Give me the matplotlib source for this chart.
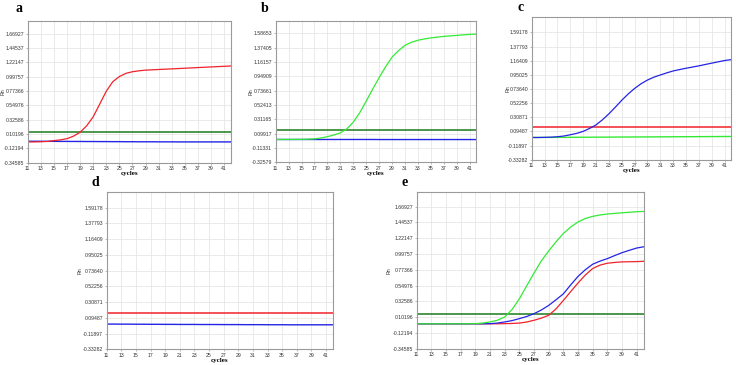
import matplotlib.pyplot as plt

cycles = list(range(11, 43))
xticks = list(range(11, 42, 2))

# panel a
a_ticks = [-0.34585, -0.12194, 0.10196, 0.32586, 0.54976, 0.77366, 0.99757, 1.22147, 1.44537, 1.66927]
a_red = [-0.02, -0.02, -0.018, -0.012, 0.0, 0.012, 0.03, 0.07, 0.13, 0.23, 0.37, 0.57, 0.77, 0.92, 1.0, 1.05,
         1.075, 1.09, 1.10, 1.105, 1.11, 1.115, 1.12, 1.125, 1.13, 1.135, 1.14, 1.145, 1.15, 1.155, 1.16, 1.165]
a_blue = [-0.01, -0.01, -0.01, -0.011, -0.011, -0.012, -0.012, -0.013, -0.013, -0.014, -0.014, -0.015, -0.015, -0.016,
          -0.016, -0.017, -0.017, -0.018, -0.018, -0.018, -0.019, -0.019, -0.019, -0.02, -0.02, -0.02, -0.02, -0.02,
          -0.02, -0.02, -0.02, -0.02]
a_thr = 0.135

# panel b
b_ticks = [-0.32579, -0.11331, 0.09917, 0.31165, 0.52413, 0.73661, 0.94909, 1.16157, 1.37405, 1.58653]
b_green = [0.013, 0.013, 0.013, 0.014, 0.015, 0.017, 0.022, 0.035, 0.055, 0.08, 0.11, 0.17, 0.27, 0.41, 0.58, 0.76,
           0.93, 1.09, 1.235, 1.33, 1.41, 1.455, 1.485, 1.505, 1.52, 1.532, 1.542, 1.55, 1.557, 1.565, 1.572, 1.576]
b_blue = [0.013] * 16 + [0.012] * 16
b_thr = 0.159

# panel c
c_ticks = [-0.33282, -0.11897, 0.09487, 0.30871, 0.52256, 0.73640, 0.95025, 1.16409, 1.37793, 1.59178]
c_blue = [0.003, 0.003, 0.005, 0.008, 0.014, 0.025, 0.044, 0.065, 0.095, 0.14, 0.193, 0.27, 0.36, 0.46, 0.565, 0.66,
          0.744, 0.815, 0.871, 0.915, 0.948, 0.98, 1.009, 1.03, 1.05, 1.068, 1.086, 1.107, 1.127, 1.147, 1.167, 1.18]
c_green = [0.003, 0.003, 0.004, 0.004, 0.005, 0.005, 0.006, 0.006, 0.007, 0.007, 0.008, 0.008, 0.009, 0.009, 0.01,
           0.01, 0.011, 0.011, 0.012, 0.012, 0.013, 0.013, 0.014, 0.014, 0.015, 0.015, 0.016, 0.016, 0.017, 0.017,
           0.018, 0.018]
c_thr = 0.16

# panel d
d_ticks = c_ticks
d_blue = [0.01, 0.01, 0.009, 0.009, 0.008, 0.008, 0.007, 0.007, 0.006, 0.006, 0.005, 0.005, 0.005, 0.004, 0.004,
          0.004, 0.003, 0.003, 0.003, 0.002, 0.002, 0.002, 0.001, 0.001, 0.001, 0.0, 0.0, 0.0, 0.0, 0.0, 0.0, 0.0]
d_thr = 0.162

# panel e
e_ticks = a_ticks
e_green = [0.01, 0.01, 0.01, 0.01, 0.01, 0.01, 0.01, 0.011, 0.012, 0.02, 0.036, 0.06, 0.106, 0.21, 0.363, 0.545,
           0.727, 0.9, 1.04, 1.17, 1.287, 1.38, 1.45, 1.5, 1.53, 1.55, 1.563, 1.572, 1.58, 1.588, 1.596, 1.6]
e_blue = [0.01] * 10 + [0.012, 0.02, 0.036, 0.055, 0.083, 0.113, 0.153, 0.205, 0.27, 0.35, 0.433, 0.56, 0.68, 0.775,
                        0.853, 0.897, 0.932, 0.975, 1.016, 1.05, 1.082, 1.1]
e_red = [0.01] * 12 + [0.012, 0.015, 0.02, 0.035, 0.06, 0.09, 0.13, 0.22, 0.34, 0.465, 0.587, 0.7, 0.792, 0.84,
                       0.867, 0.878, 0.886, 0.888, 0.89, 0.895]
e_thr = 0.154

RED = '#f0222a'
GREEN = '#33ea33'
DKGREEN = '#1d7a1d'
BLUE = '#2424e6'
TICKFONT = ['Liberation Sans Narrow', 'Liberation Sans', 'DejaVu Sans']


def setup(ax, ticks, top, letter, dx, dy):
    ax.set_xlim(11, 42)
    ax.set_ylim(ticks[0], top)
    ax.set_xticks(xticks)
    ax.set_yticks(ticks)
    ax.set_yticklabels(['%.5f' % t for t in ticks])
    ax.grid(True, color='#e6e6e6', linewidth=0.6)
    ax.set_axisbelow(True)
    for s in ax.spines.values():
        s.set_color('#9a9a9a')
        s.set_linewidth(0.8)
    ax.tick_params(labelsize=3.7, colors='#333333', length=1.5, width=0.5, pad=1.0)
    ax.tick_params(color='#9a9a9a')
    for lab in ax.get_xticklabels() + ax.get_yticklabels():
        lab.set_family(TICKFONT)
    ax.set_xlabel('cycles', fontsize=5.0, fontweight='bold', family='Liberation Serif', labelpad=0)
    ax.set_ylabel('Rn', fontsize=3.8, color='#333333', family=TICKFONT)
    ax.yaxis.set_label_coords(-0.108, 0.5)
    # panel letter, offsets given in pixels from the axes top-left corner
    ax.annotate(letter, xy=(0, 1), xycoords='axes fraction', xytext=(dx * 0.72, dy * 0.72),
                textcoords='offset points', fontsize=10, fontweight='bold',
                family='Liberation Serif', ha='center', va='bottom')


fig = plt.figure(figsize=(7.36, 3.65), dpi=100)

ax_a = fig.add_axes([0.0376, 0.554, 0.2758, 0.389])
ax_b = fig.add_axes([0.3746, 0.5553, 0.2722, 0.387])
ax_c = fig.add_axes([0.7224, 0.5625, 0.2708, 0.390])
ax_d = fig.add_axes([0.145, 0.0430, 0.3079, 0.430])
ax_e = fig.add_axes([0.5661, 0.0440, 0.3089, 0.430])

setup(ax_a, a_ticks, 1.87, 'a', -9, 6)
ax_a.axhline(a_thr, color=DKGREEN, lw=1.1)
ax_a.plot(cycles, a_blue, color=BLUE, lw=1.0)
ax_a.plot(cycles, a_red, color=RED, lw=0.9)

setup(ax_b, b_ticks, 1.77, 'b', -11, 6)
ax_b.axhline(b_thr, color=DKGREEN, lw=1.1)
ax_b.plot(cycles, b_blue, color=BLUE, lw=1.0)
ax_b.plot(cycles, b_green, color=GREEN, lw=0.9)

setup(ax_c, c_ticks, 1.82, 'c', -11.5, 3)
ax_c.axhline(c_thr, color=RED, lw=1.1)
ax_c.plot(cycles, c_green, color=GREEN, lw=1.0)
ax_c.plot(cycles, c_blue, color=BLUE, lw=0.9)

setup(ax_d, d_ticks, 1.80, 'd', -11, 3)
ax_d.axhline(d_thr, color=RED, lw=1.1)
ax_d.plot(cycles, d_blue, color=BLUE, lw=1.0)

setup(ax_e, e_ticks, 1.875, 'e', -12, 3)
ax_e.axhline(e_thr, color=DKGREEN, lw=1.1)
ax_e.plot(cycles, e_red, color=RED, lw=0.9)
ax_e.plot(cycles, e_blue, color=BLUE, lw=0.9)
ax_e.plot(cycles, e_green, color=GREEN, lw=0.9)

plt.savefig('out.png', dpi=100)
